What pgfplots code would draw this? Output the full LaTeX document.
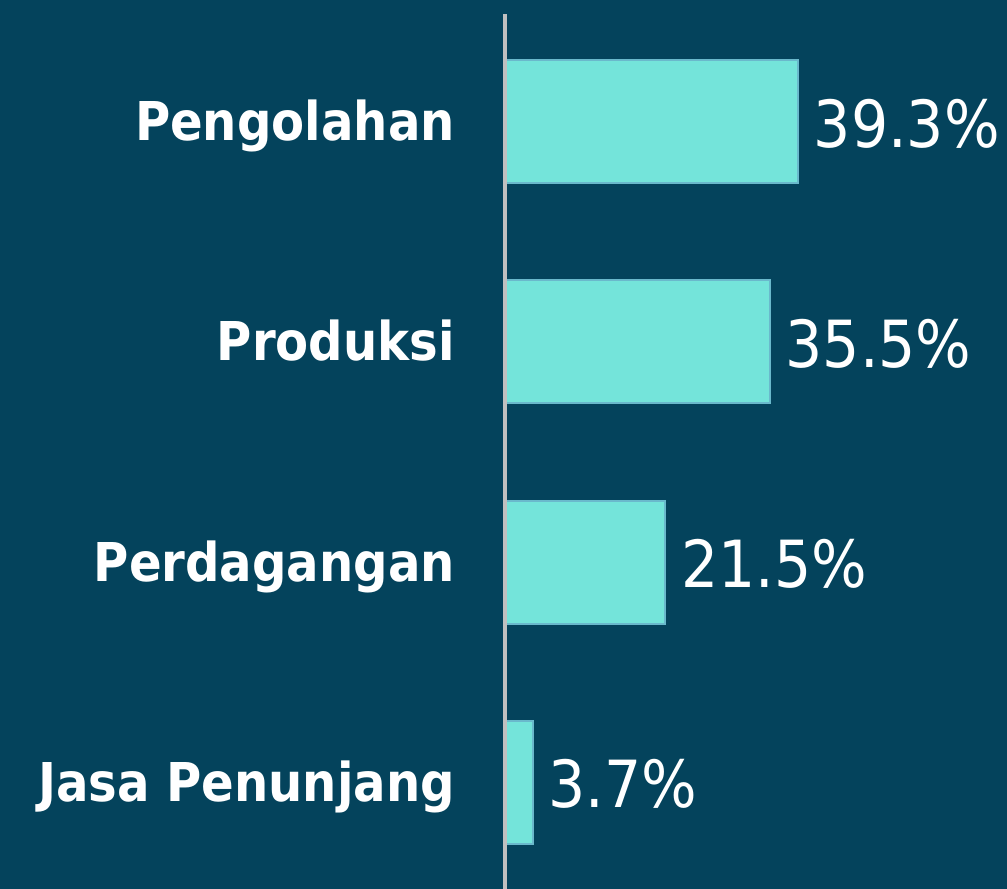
\documentclass[border=0pt]{standalone}
\usepackage{pgfplots}
\pgfplotsset{compat=1.18}
\usepackage{fontspec}
\setmainfont{DejaVu Sans}
\newfontfamily\condfont{DejaVu Sans Condensed}
\definecolor{bg}{HTML}{04435C}
\definecolor{barfill}{HTML}{74E4DA}
\definecolor{baredge}{HTML}{6AB9CC}
\definecolor{axisgray}{HTML}{C0C0C0}
\begin{document}
\begin{tikzpicture}[x=1pt,y=1pt]
\useasboundingbox (0,0) rectangle (1007,889);
\fill[bg] (0,0) rectangle (1007,889);
\begin{axis}[
  at={(505pt,0pt)}, anchor=south west,
  scale only axis, width=447.3pt, height=875pt,
  xmin=0, xmax=60, ymin=-0.485, ymax=3.49,
  xbar, bar width=123pt,
  axis x line=none, axis y line=left,
  axis line style={-, draw=axisgray, line width=3.5pt},
  axis on top,
  ytick={0,1,2,3},
  yticklabels={Jasa Penunjang, Perdagangan, Produksi, Pengolahan},
  major tick length=0pt,
  y tick label style={anchor=base east, inner sep=0pt, xshift=-50pt, yshift=-19pt, text=white, font=\condfont\bfseries\fontsize{53.5}{60}\selectfont},
  point meta=x,
  /pgf/number format/assume math mode=true,
  nodes near coords={\pgfmathprintnumber[fixed,precision=1,fixed zerofill,assume math mode=true]{\pgfplotspointmeta}\%},
  nodes near coords style={anchor=west, inner sep=0pt, xshift=15pt, yshift=-2pt, text=white, font=\condfont\fontsize{65}{72}\selectfont},
]
\addplot[fill=barfill, draw=baredge, line width=2pt] coordinates {(3.7,0) (21.5,1) (35.5,2) (39.3,3)};
\end{axis}
\end{tikzpicture}
\end{document}
